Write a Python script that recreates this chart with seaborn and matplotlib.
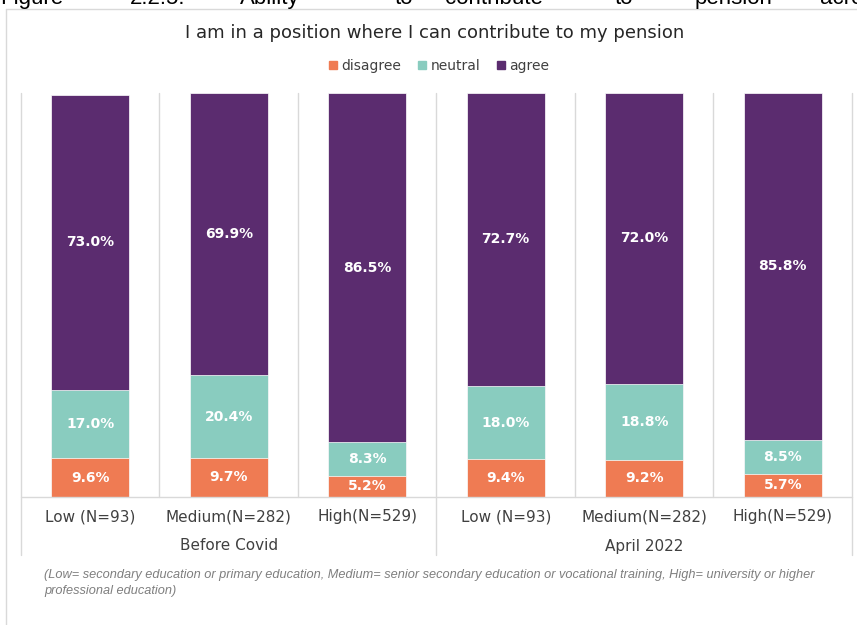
import matplotlib
matplotlib.use("Agg")
import matplotlib.pyplot as plt
from matplotlib.lines import Line2D
import seaborn as sns
import pandas as pd

# ---- data -------------------------------------------------------------
periods = ["Before Covid", "Before Covid", "Before Covid",
           "April 2022", "April 2022", "April 2022"]
education = ["Low (N=93)", "Medium(N=282)", "High(N=529)",
             "Low (N=93)", "Medium(N=282)", "High(N=529)"]
disagree = [9.6, 9.7, 5.2, 9.4, 9.2, 5.7]
neutral = [17.0, 20.4, 8.3, 18.0, 18.8, 8.5]
agree = [73.0, 69.9, 86.5, 72.7, 72.0, 85.8]
series_names = ["disagree", "neutral", "agree"]
group_names = ["Before Covid", "April 2022"]

title = "I am in a position where I can contribute to my pension"
footnote = [
    "(Low= secondary education or primary education, Medium= senior secondary "
    "education or vocational training, High= university or higher",
    "professional education)",
]
caption_words = ["Figure", "2.2.5:", "Ability", "to", "contribute", "to",
                 "pension", "across"]

colors = {"disagree": "#EF7B53", "neutral": "#89CCBF", "agree": "#5B2C6F"}
grid_c = "#D9D9D9"
text_c = "#404040"

# ---- frame --------------------------------------------------------------
df = pd.DataFrame({
    "key": [f"{p}|{e}" for p, e in zip(periods, education)],
    "period": periods,
    "education": education,
    "disagree": disagree,
    "neutral": neutral,
    "agree": agree,
})
df["cum_neutral"] = df["disagree"] + df["neutral"]
df["cum_agree"] = df["cum_neutral"] + df["agree"]

W, H = 857, 625
fig = plt.figure(figsize=(W / 100, H / 100), dpi=100)
sns.set_style("white")
plt.rcParams["font.family"] = ["DejaVu Sans"]

left_px, right_px, top_px, bot_px = 21, 852, 93, 497
ax = fig.add_axes([left_px / W, 1 - bot_px / H,
                   (right_px - left_px) / W, (bot_px - top_px) / H])

order = list(df["key"])
bar_w = 0.56
# stacked bars: draw cumulative totals back to front
for col, name in [("cum_agree", "agree"), ("cum_neutral", "neutral"),
                  ("disagree", "disagree")]:
    sns.barplot(data=df, x="key", y=col, order=order, color=colors[name],
                saturation=1, width=bar_w, errorbar=None, ax=ax,
                edgecolor="white", linewidth=0.5, zorder=3)

ax.set_xlim(-0.5, len(order) - 0.5)
ax.set_ylim(0, 100)
ax.set_xlabel("")
ax.set_ylabel("")
ax.set_xticks([])
ax.set_yticks([])
for s in ax.spines.values():
    s.set_visible(False)

# value labels
for i, row in df.iterrows():
    segs = [(row["disagree"], row["disagree"] / 2),
            (row["neutral"], row["disagree"] + row["neutral"] / 2),
            (row["agree"], row["cum_neutral"] + row["agree"] / 2)]
    for val, yc in segs:
        ax.text(i, yc, f"{val:.1f}%", ha="center", va="center",
                color="white", fontsize=10, fontweight="bold", zorder=5)

# category grid and axis line
xt = ax.get_xaxis_transform()
ext = -(555 - bot_px) / (bot_px - top_px)
for x in [0.5, 1.5, 3.5, 4.5]:
    ax.plot([x, x], [0, 1], transform=xt, color=grid_c, lw=1, zorder=1,
            clip_on=False)
for x in [-0.5, 2.5, 5.5]:
    ax.plot([x, x], [ext, 1], transform=xt, color=grid_c, lw=1, zorder=1,
            clip_on=False)
ax.plot([-0.5, 5.5], [0, 0], color=grid_c, lw=1, zorder=4, clip_on=False)

# category and group labels
lab_y = -(517 - bot_px) / (bot_px - top_px)
grp_y = -(546 - bot_px) / (bot_px - top_px)
for i, e in enumerate(education):
    ax.text(i, lab_y, e, transform=xt, ha="center", va="center",
            fontsize=11, color=text_c)
for g, name in enumerate(group_names):
    ax.text(g * 3 + 1, grp_y, name, transform=xt, ha="center", va="center",
            fontsize=11, color=text_c)

# title and legend
fig.text(435 / W, 1 - 33 / H, title, ha="center", va="center",
         fontsize=13, color="#262626")
handles = [Line2D([], [], marker="s", ls="", color=colors[n], markersize=6)
           for n in series_names]
fig.legend(handles, series_names, loc="center", ncol=3,
           bbox_to_anchor=(438 / W, 1 - 66 / H), frameon=False,
           fontsize=10, handletextpad=0.1, columnspacing=1.0,
           labelcolor=text_c, handlelength=1.0)

# footnote
for k, line in enumerate(footnote):
    fig.text(44 / W, 1 - (578 + 16 * k) / H, line, ha="left", va="baseline",
             fontsize=9.2, style="italic", color="#7F7F7F",
             family=["Liberation Sans", "DejaVu Sans"])

# caption above the frame
cap_x = [0, 130, 240, 395, 445, 615, 695, 820]
for w, x in zip(caption_words, cap_x):
    fig.text(x / W, 1 - 4 / H, w, ha="left", va="baseline", fontsize=16,
             color="black", family=["Liberation Sans", "DejaVu Sans"])

# outer frame
fig.add_artist(Line2D([6 / W, 6 / W], [0, 1 - 9 / H], transform=fig.transFigure,
                      color=grid_c, lw=1))
fig.add_artist(Line2D([6 / W, 1], [1 - 9 / H, 1 - 9 / H],
                      transform=fig.transFigure, color=grid_c, lw=1))

fig.savefig("out.png", dpi=100, facecolor="white")
